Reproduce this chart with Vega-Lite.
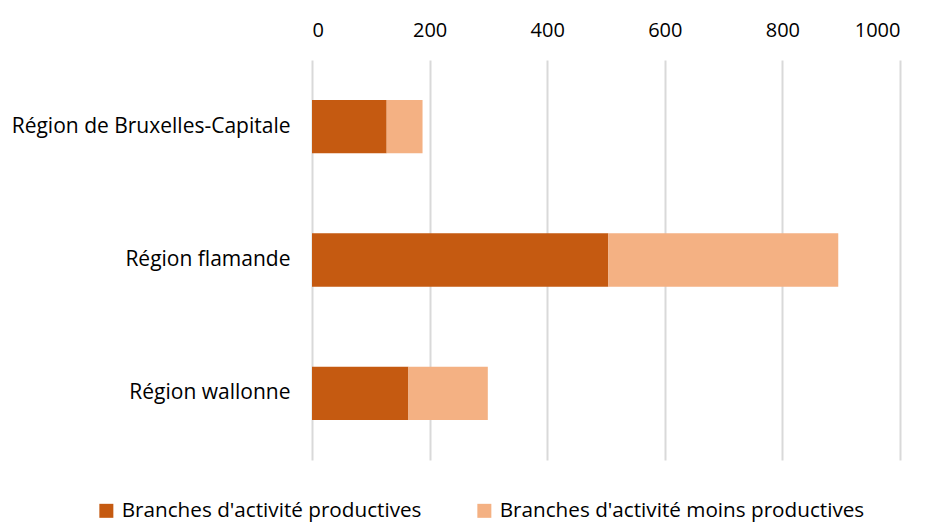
{
  "$schema": "https://vega.github.io/schema/vega-lite/v6.json",
  "width": 588,
  "height": 400,
  "autosize": "none",
  "padding": {"left": 312, "top": 60, "right": 28, "bottom": 62},
  "background": "white",
  "config": {
    "font": "Open Sans",
    "view": {"stroke": null}
  },
  "data": {
    "values": [
      {"region": "Région de Bruxelles-Capitale", "cat": "Branches d'activité productives", "o": 1, "value": 127},
      {"region": "Région de Bruxelles-Capitale", "cat": "Branches d'activité moins productives", "o": 2, "value": 61},
      {"region": "Région flamande", "cat": "Branches d'activité productives", "o": 1, "value": 504},
      {"region": "Région flamande", "cat": "Branches d'activité moins productives", "o": 2, "value": 391},
      {"region": "Région wallonne", "cat": "Branches d'activité productives", "o": 1, "value": 164},
      {"region": "Région wallonne", "cat": "Branches d'activité moins productives", "o": 2, "value": 135}
    ]
  },
  "mark": {"type": "bar"},
  "encoding": {
    "y": {
      "field": "region",
      "type": "nominal",
      "sort": ["Région de Bruxelles-Capitale", "Région flamande", "Région wallonne"],
      "scale": {"paddingInner": 0.6, "paddingOuter": 0.3},
      "axis": {
        "title": null,
        "domain": false,
        "ticks": false,
        "labelFontSize": 21,
        "labelColor": "#000000",
        "labelPadding": 22,
        "labelLimit": 400
      }
    },
    "x": {
      "field": "value",
      "type": "quantitative",
      "stack": "zero",
      "scale": {"domain": [0, 1000], "nice": false},
      "axis": {
        "orient": "top",
        "title": null,
        "values": [0, 200, 400, 600, 800, 1000],
        "format": "d",
        "domain": false,
        "ticks": false,
        "labelFontSize": 20,
        "labelColor": "#000000",
        "labelPadding": 20,
        "grid": true,
        "gridColor": "#d9d9d9",
        "gridWidth": 2
      }
    },
    "color": {
      "field": "cat",
      "type": "nominal",
      "sort": ["Branches d'activité productives", "Branches d'activité moins productives"],
      "scale": {
        "domain": ["Branches d'activité productives", "Branches d'activité moins productives"],
        "range": ["#C55A11", "#F4B183"]
      },
      "legend": {
        "title": null,
        "orient": "none",
        "direction": "horizontal",
        "legendX": -216,
        "legendY": 440,
        "symbolType": "square",
        "symbolSize": 196,
        "symbolStrokeWidth": 0,
        "labelFontSize": 20.7,
        "labelColor": "#000000",
        "labelOffset": 5,
        "columnPadding": 52,
        "labelLimit": 500
      }
    },
    "order": {"field": "o", "type": "quantitative"}
  }
}
